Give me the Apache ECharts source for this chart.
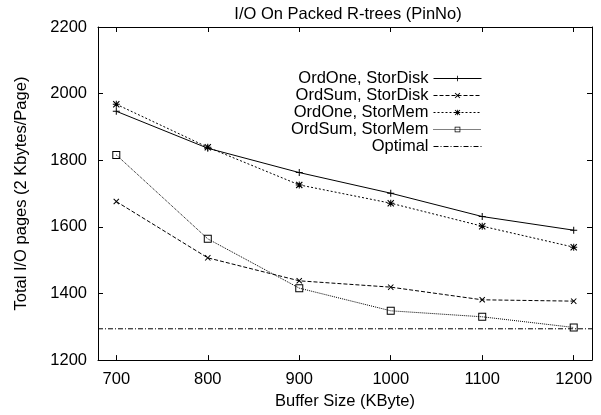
<!DOCTYPE html>
<html>
<head>
<meta charset="utf-8">
<script src="https://cdn.jsdelivr.net/npm/echarts@6/dist/echarts.min.js"></script>
<style>html,body{margin:0;padding:0;background:#fff;}#c{width:601px;height:415px;}</style>
</head>
<body>
<div id="c"></div>
<script>
var titleText = 'I/O On Packed R-trees (PinNo)';
var xName = 'Buffer Size (KByte)';
var yName = 'Total I/O pages (2 Kbytes/Page)';
var bufferSizes = [700, 800, 900, 1000, 1100, 1200];
var yTicks = [1200, 1400, 1600, 1800, 2000, 2200];
var seriesNames = ['OrdOne, StorDisk', 'OrdSum, StorDisk', 'OrdOne, StorMem', 'OrdSum, StorMem', 'Optimal'];
var ordOneStorDisk = [1947, 1836, 1763, 1701, 1631, 1590];
var ordSumStorDisk = [1676, 1507, 1438, 1419, 1381, 1377];
var ordOneStorMem = [1968, 1839, 1726, 1671, 1602, 1539];
var ordSumStorMem = [1816, 1564, 1416, 1348, 1330, 1298];
var optimalValue = 1294;
var xRange = [680, 1220];

var FONT = 'Liberation Sans';
var FS = 16.5;
function pairs(vals) { return bufferSizes.map(function (x, i) { return [x, vals[i]]; }); }
function plain(v) { return String(v); }

var SYM_PLUS = 'path://M3,0H4V3H7V4H4V7H3V4H0V3H3Z';
var SYM_CROSS = 'path://M0,0.7L0.7,0L3,2.3L5.3,0L6,0.7L3.7,3L6,5.3L5.3,6L3,3.7L0.7,6L0,5.3L2.3,3Z';
var SYM_STAR = 'path://M3,0H4V3H7V4H4V7H3V4H0V3H3Z M0,0.8L0.8,0L3.5,2.7L6.2,0L7,0.8L4.3,3.5L7,6.2L6.2,7L3.5,4.3L0.8,7L0,6.2L2.7,3.5Z';
var SYM_SQUARE = 'path://M0,0H8V8H0Z M1,1V7H7V1Z';

function lineSeries(name, vals, sym, size, dash) {
  return {
    name: name, type: 'line', data: pairs(vals),
    symbol: sym, symbolSize: size, showAllSymbol: true,
    itemStyle: { color: '#000' },
    lineStyle: { color: '#000', width: 1, type: dash },
    emphasis: { disabled: true }
  };
}

var axisCommon = {
  axisLine: { show: true, onZero: false, lineStyle: { color: '#000', width: 1 } },
  splitLine: { show: false }
};

var option = {
  animation: false,
  backgroundColor: '#fff',
  title: {
    text: titleText, left: 343, top: 1, textAlign: 'center',
    textStyle: { fontFamily: FONT, fontSize: FS, fontWeight: 'normal', color: '#000' }
  },
  legend: {
    orient: 'vertical', align: 'right', right: 119, top: 70, padding: 0,
    itemWidth: 48, itemHeight: 7, itemGap: 0,
    data: [seriesNames[0], seriesNames[1], seriesNames[2], seriesNames[3],
      { name: seriesNames[4], itemStyle: { opacity: 0 } }],
    lineStyle: { width: 1 },
    textStyle: { fontFamily: FONT, fontSize: FS, color: '#000', lineHeight: 17 }
  },
  grid: { left: 98, right: 9, top: 27, bottom: 49, containLabel: false },
  xAxis: [
    Object.assign({}, axisCommon, {
      type: 'value', min: xRange[0], max: xRange[1], position: 'bottom',
      name: xName, nameLocation: 'middle', nameGap: 20,
      nameTextStyle: { fontFamily: FONT, fontSize: FS, color: '#000' },
      axisTick: { show: true, inside: true, length: 5, customValues: bufferSizes, lineStyle: { color: '#000' } },
      axisLabel: { customValues: bufferSizes, formatter: plain, margin: 11, fontFamily: FONT, fontSize: FS, color: '#000' }
    }),
    Object.assign({}, axisCommon, {
      type: 'value', min: xRange[0], max: xRange[1], position: 'top',
      axisTick: { show: true, inside: true, length: 5, customValues: bufferSizes, lineStyle: { color: '#000' } },
      axisLabel: { show: false }
    })
  ],
  yAxis: [
    Object.assign({}, axisCommon, {
      type: 'value', min: yTicks[0], max: yTicks[yTicks.length - 1], interval: 200, position: 'left',
      name: yName, nameLocation: 'middle', nameGap: 68,
      nameTextStyle: { fontFamily: FONT, fontSize: FS, color: '#000' },
      axisTick: { show: true, inside: true, length: 5, lineStyle: { color: '#000' } },
      axisLabel: { formatter: plain, margin: 11, fontFamily: FONT, fontSize: FS, color: '#000' }
    }),
    Object.assign({}, axisCommon, {
      type: 'value', min: yTicks[0], max: yTicks[yTicks.length - 1], interval: 200, position: 'right',
      axisTick: { show: true, inside: true, length: 5, lineStyle: { color: '#000' } },
      axisLabel: { show: false }
    })
  ],
  series: [
    lineSeries(seriesNames[0], ordOneStorDisk, SYM_PLUS, 7, 'solid'),
    lineSeries(seriesNames[1], ordSumStorDisk, SYM_CROSS, 6, [4, 2]),
    lineSeries(seriesNames[2], ordOneStorMem, SYM_STAR, 7, [2, 2]),
    lineSeries(seriesNames[3], ordSumStorMem, SYM_SQUARE, 8, [1, 1]),
    {
      name: seriesNames[4], type: 'line',
      data: [[xRange[0], optimalValue], [xRange[1], optimalValue]],
      symbol: 'none',
      itemStyle: { color: '#000' },
      lineStyle: { color: '#000', width: 1, type: [5, 2, 1, 2] },
      emphasis: { disabled: true }
    }
  ]
};

var chart = echarts.init(document.getElementById('c'), null, { renderer: 'canvas' });
chart.setOption(option);
</script>
</body>
</html>
